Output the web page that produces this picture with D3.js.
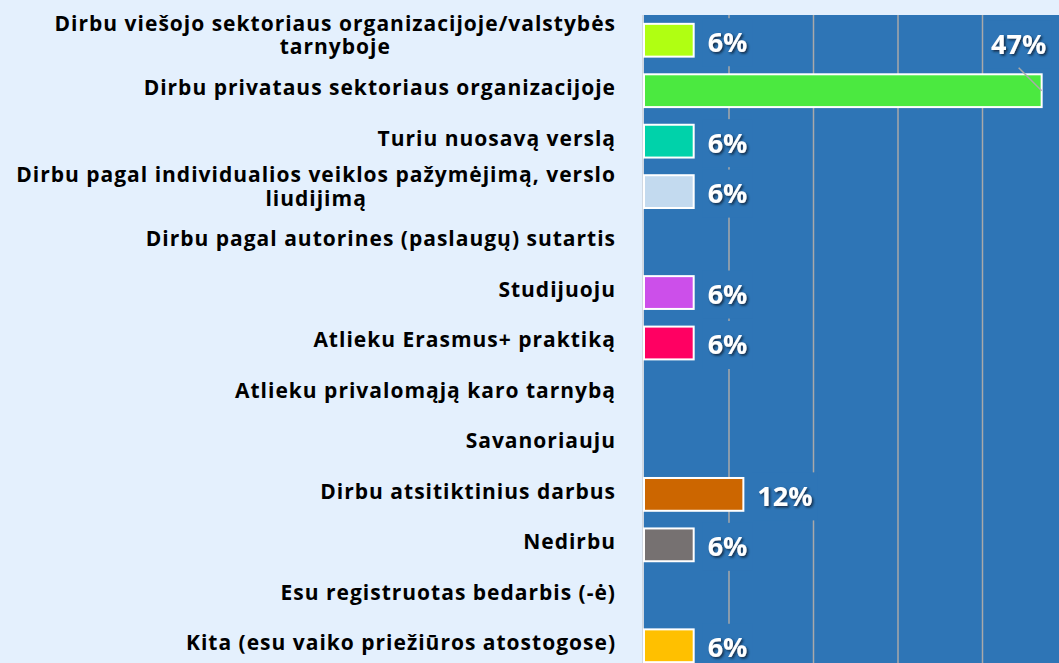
<!DOCTYPE html>
<html>
<head>
<meta charset="utf-8">
<script src="https://cdn.jsdelivr.net/npm/d3@7"></script>
<style>
  html, body { margin: 0; padding: 0; background: #e4f0fd; }
  svg { display: block; }
</style>
</head>
<body>
<svg id="chart" width="1059" height="663"></svg>
<script>
// chart data
var categories = [
  ["Dirbu viešojo sektoriaus organizacijoje/valstybės", "tarnyboje"],
  ["Dirbu privataus sektoriaus organizacijoje"],
  ["Turiu nuosavą verslą"],
  ["Dirbu pagal individualios veiklos pažymėjimą, verslo", "liudijimą"],
  ["Dirbu pagal autorines (paslaugų) sutartis"],
  ["Studijuoju"],
  ["Atlieku Erasmus+ praktiką"],
  ["Atlieku privalomąją karo tarnybą"],
  ["Savanoriauju"],
  ["Dirbu atsitiktinius darbus"],
  ["Nedirbu"],
  ["Esu registruotas bedarbis (-ė)"],
  ["Kita (esu vaiko priežiūros atostogose)"]
];
var values = [5.88, 47.06, 5.88, 5.88, 0, 5.88, 5.88, 0, 0, 11.76, 5.88, 0, 5.88];
var valueLabels = ["6%", "47%", "6%", "6%", "", "6%", "6%", "", "", "12%", "6%", "", "6%"];
var barColors = ["#b0ff12", "#4be940", "#00d2aa", "#c3daef", "#000000", "#cc4fea",
                 "#ff0062", "#000000", "#000000", "#cc6600", "#767171", "#000000", "#ffc000"];
var gridTicks = [10, 20, 30, 40, 50];

var width = 1059, height = 663;
var plot = { left: 644, top: 15, right: 1066.5, bottom: 671 };
var plotColor = "#2e75b6";

var svg = d3.select("#chart");

var defs = svg.append("defs");
var shadow = defs.append("filter").attr("id", "shadow")
    .attr("x", "-20%").attr("y", "-20%").attr("width", "150%").attr("height", "150%");
shadow.append("feDropShadow")
    .attr("dx", 1.6).attr("dy", 1.6).attr("stdDeviation", 1)
    .attr("flood-color", "#0b1a30").attr("flood-opacity", 0.85);

var keys = d3.range(categories.length);

var x = d3.scaleLinear()
    .domain([0, 50])
    .range([plot.left, plot.right]);

var y = d3.scaleBand()
    .domain(keys)
    .range([plot.top, plot.bottom])
    .paddingInner(0.35)
    .paddingOuter(0.175);

// plot area
svg.append("rect")
    .attr("x", plot.left).attr("y", plot.top)
    .attr("width", plot.right - plot.left).attr("height", plot.bottom - plot.top)
    .attr("fill", plotColor);

// grid lines
var xAxis = d3.axisBottom(x)
    .tickValues(gridTicks)
    .tickSize(-(plot.bottom - plot.top))
    .tickFormat("");

svg.append("g")
    .attr("transform", "translate(0," + plot.bottom + ")")
    .call(xAxis)
    .call(function(g) { g.select(".domain").remove(); })
    .selectAll("line")
    .attr("stroke", "#a9a9a9")
    .attr("stroke-width", 1.5);

// left axis line
svg.append("line")
    .attr("x1", plot.left - 1).attr("x2", plot.left - 1)
    .attr("y1", plot.top).attr("y2", plot.bottom)
    .attr("stroke", "#d0d8e2").attr("stroke-width", 2);

// bars
svg.append("g").selectAll("rect")
    .data(keys.filter(function(i) { return values[i] > 0; }))
    .enter().append("rect")
    .attr("x", x(0))
    .attr("y", function(i) { return y(i); })
    .attr("width", function(i) { return x(values[i]) - x(0); })
    .attr("height", y.bandwidth())
    .attr("fill", function(i) { return barColors[i]; })
    .attr("stroke", "#ffffff")
    .attr("stroke-width", 2);

// category labels
var catG = svg.append("g")
    .attr("font-family", "'Open Sans', sans-serif")
    .attr("font-weight", "bold")
    .attr("font-size", 21)
    .attr("letter-spacing", 1)
    .attr("fill", "#000");

keys.forEach(function(i) {
  var lines = categories[i];
  var lh = 23.7;
  var cy = y(i) + y.bandwidth() / 2 - (lines.length > 1 ? 5 : 3);
  var t = catG.append("text")
      .attr("text-anchor", "middle");
  lines.forEach(function(l, k) {
    t.append("tspan")
      .attr("x", 0)
      .attr("y", cy + (k - (lines.length - 1) / 2) * lh)
      .attr("dy", "0.35em")
      .text(l);
  });
  // right-align the block, center lines within it
  var w = t.node().getBBox().width;
  t.selectAll("tspan").attr("x", 616 - w / 2);
});

// value labels
var maxV = d3.max(values);
var valG = svg.append("g")
    .attr("font-family", "'Open Sans', sans-serif")
    .attr("font-weight", "bold")
    .attr("font-size", 27);

keys.forEach(function(i) {
  if (!valueLabels[i]) return;
  var cy = y(i) + y.bandwidth() / 2;
  var isMax = values[i] === maxV;
  var lx, ly, anchor;
  if (isMax) {
    lx = x(values[i]) - 23; ly = cy - 46; anchor = "middle";
  } else {
    lx = x(values[i]) + 14; ly = cy + 2; anchor = "start";
  }
  var box = valG.append("rect").attr("fill", plotColor);
  var t = valG.append("text")
      .attr("x", lx).attr("y", ly)
      .attr("dy", "0.35em")
      .attr("text-anchor", anchor)
      .attr("fill", "#ffffff")
      .attr("filter", "url(#shadow)")
      .text(valueLabels[i]);
  var bb = t.node().getBBox();
  box.attr("x", bb.x - 5).attr("y", ly - 24)
     .attr("width", bb.width + 10).attr("height", 48);
  if (isMax) {
    valG.append("line")
      .attr("x1", lx).attr("y1", ly + 23)
      .attr("x2", x(values[i])).attr("y2", cy)
      .attr("stroke", "#a9a9a9").attr("stroke-width", 1.5);
  }
});
</script>
</body>
</html>
